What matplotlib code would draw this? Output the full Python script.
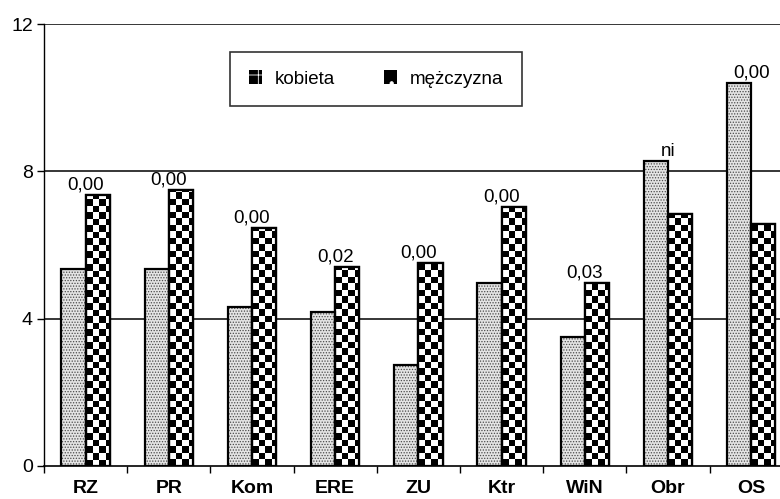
import numpy as np
import matplotlib.pyplot as plt
from matplotlib.patches import Patch

plt.rcParams['font.family'] = ['Liberation Sans', 'DejaVu Sans']
plt.rcParams['hatch.linewidth'] = 0.6

# data
categories = ['RZ', 'PR', 'Kom', 'ERE', 'ZU', 'Ktr', 'WiN', 'Obr', 'OS']
kobieta = [5.34, 5.34, 4.31, 4.17, 2.73, 4.96, 3.5, 8.27, 10.39]
mezczyzna = [7.35, 7.5, 6.47, 5.41, 5.52, 7.04, 4.98, 6.85, 6.58]
p_labels = ['0,00', '0,00', '0,00', '0,02', '0,00', '0,00', '0,03', 'ni', '0,00']
series_names = ['kobieta', 'mężczyzna']

W, H = 780, 499
fig = plt.figure(figsize=(W / 100, H / 100), dpi=100)
# axes runs a little past the right edge, like in the original scan
ax = fig.add_axes([44 / W, 33 / H, 9 * 83.2 / W, 442 / H])

x = np.arange(len(categories))
bw = 0.29

# stippled bars (kobieta)
ax.bar(x - bw / 2, kobieta, bw, facecolor='#e4e4e4', edgecolor='#4a4a4a',
       hatch='......', linewidth=0, zorder=3)
ax.bar(x - bw / 2, kobieta, bw, fill=False, edgecolor='black', linewidth=1.6, zorder=4)

# checkerboard bars (mezczyzna)
bars_m = ax.bar(x + bw / 2, mezczyzna, bw, facecolor='white', edgecolor='black',
                linewidth=1.6, zorder=3)
cell_x = 6.5 / 83.2
cell_y = 6.5 / 36.8
for b in bars_m:
    x0, w, h = b.get_x(), b.get_width(), b.get_height()
    nx = int(np.ceil(w / cell_x))
    ny = int(np.ceil(h / cell_y))
    board = (np.add.outer(np.arange(ny), np.arange(nx)) % 2).astype(float)
    im = ax.imshow(board, cmap='gray', vmin=0, vmax=1, interpolation='nearest',
                   extent=[x0, x0 + nx * cell_x, 0, ny * cell_y], origin='lower',
                   aspect='auto', zorder=3.5)
    im.set_clip_path(b)
ax.bar(x + bw / 2, mezczyzna, bw, fill=False, edgecolor='black', linewidth=1.6, zorder=4)

# significance labels above each pair
for i, lab in enumerate(p_labels):
    top = max(kobieta[i], mezczyzna[i])
    ax.annotate(lab, (x[i], top), xytext=(0, 4), textcoords='offset points',
                ha='center', va='baseline', fontsize=13.5, zorder=5)

ax.set_xlim(-0.5, len(categories) - 0.5)
ax.set_ylim(0, 12)
ax.set_yticks([0, 4, 8, 12])
ax.tick_params(axis='y', labelsize=14, length=5, width=1, direction='out', pad=3)
ax.set_xticks(x)
ax.set_xticklabels(categories, fontsize=14, fontweight='bold')
ax.tick_params(axis='x', length=0, pad=19.5)
ax.set_xticks(np.arange(len(categories) + 1) - 0.5, minor=True)
ax.tick_params(axis='x', which='minor', length=5, width=1, direction='out')
for t in ax.get_xticklabels():
    t.set_verticalalignment('baseline')

for yv in [4, 8, 12]:
    ax.axhline(yv, color='black', linewidth=1.1, zorder=1)
for s in ['top', 'right']:
    ax.spines[s].set_visible(False)
ax.spines['left'].set_linewidth(1)
ax.spines['bottom'].set_linewidth(1.2)

handles = [Patch(facecolor='black', edgecolor='white', hatch='+', linewidth=0),
           Patch(facecolor='black', edgecolor='white', hatch='.', linewidth=0)]
leg = ax.legend(handles, series_names, ncol=2, loc='center',
                bbox_to_anchor=(376 / W, 1 - 79 / H), bbox_transform=fig.transFigure,
                fontsize=13.5, frameon=True, fancybox=False, handlelength=0.7,
                handleheight=0.7, handletextpad=0.7, columnspacing=2.6,
                borderpad=1.0)
leg.get_frame().set_edgecolor('black')
leg.get_frame().set_linewidth(1.2)

fig.savefig('out.png', dpi=100)
